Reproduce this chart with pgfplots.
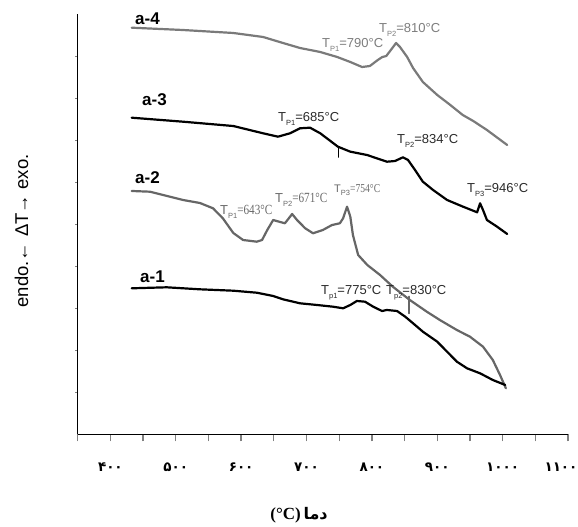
\documentclass[border=0pt]{standalone}
\usepackage{pgfplots}
\pgfplotsset{compat=1.18}
\usepackage{fontspec}
\setmainfont{Liberation Sans}
\newfontfamily\arabicfont[Script=Arabic]{DejaVu Sans}
\newfontfamily\serifn[FakeStretch=0.8]{Liberation Serif}
\newfontfamily\timesf{Liberation Serif}
\TeXXeTstate=1
\definecolor{g4}{HTML}{7A7A7A}
\definecolor{g2}{HTML}{666666}
\definecolor{t4}{HTML}{7D7D7D}
\definecolor{t2}{HTML}{6A6A6A}
\definecolor{t1}{HTML}{2A2A2A}
\newcommand\sub[1]{\raisebox{-0.5ex}{\fontsize{7.5}{8}\selectfont #1}}
\begin{document}
\begin{tikzpicture}
\useasboundingbox (0,0) rectangle (578pt,527pt);
\begin{axis}[
  at={(77.7pt,92.7pt)}, anchor=south west,
  scale only axis, width=490.3pt, height=420pt,
  xmin=350, xmax=1100, ymin=0, ymax=10,
  axis x line*=bottom, axis y line*=left,
  axis line style={line width=1.5pt},
  clip=false,
  tick align=outside,
  xtick={400,500,...,1100},
  minor xtick={350,450,...,1050},
  xticklabels={۴۰۰,۵۰۰,۶۰۰,۷۰۰,۸۰۰,۹۰۰,۱۰۰۰,\hspace*{-14pt}۱۱۰۰},
  xticklabel style={font=\arabicfont\bfseries\fontsize{13.5}{13.5}\selectfont, yshift=-18pt},
  ytick={1,...,9}, yticklabels={},
  major tick length=7pt, minor tick length=7pt,
  xtick style={line width=1.3pt},
  minor x tick style={line width=1.3pt},
  ytick style={line width=1.3pt, /pgfplots/major tick length=2.5pt},
  every axis plot/.append style={line width=2.2pt, line join=round, line cap=round},
]
% a-4
\addplot[g4, mark=none] coordinates {
(432.6,9.681)(511,9.626)(588,9.555)(633.5,9.460)(664,9.317)(690,9.198)(721,9.102)(747,8.983)(767,8.864)(785,8.745)(797,8.769)(809,8.912)(816,8.983)(822,9.007)(829,9.150)(837,9.317)(843,9.221)(854,8.983)(863,8.721)(878,8.388)(900,8.079)(920,7.840)(939,7.602)(955,7.460)(976,7.245)(1007,6.888)
};
% a-3
\addplot[black, mark=none] coordinates {
(432.6,7.538)(511,7.443)(588,7.340)(633.5,7.167)(656.4,7.086)(674.8,7.167)(690,7.286)(705.4,7.300)(721,7.167)(736,6.990)(748,6.848)(767,6.729)(792.6,6.650)(823,6.490)(835.4,6.507)(847.5,6.595)(855.3,6.531)(866,6.293)(878,6.014)(893.6,5.817)(915,5.579)(939.5,5.419)(961,5.286)(965.5,5.500)(970,5.340)(976,5.102)(991.5,4.943)(1007,4.769)
};
\addplot[black, mark=none, line width=1.6pt] coordinates {(749,6.85)(749,6.60)};
% a-2
\addplot[g2, mark=none] coordinates {
(432.6,5.793)(460.6,5.776)(511,5.579)(537,5.507)(557,5.381)(572,5.143)(588,4.793)(603,4.626)(624,4.586)(632,4.626)(640,4.864)(649,5.102)(658,5.062)(667,5.024)(678,5.245)(685.5,5.102)(698,4.905)(710,4.786)(725,4.864)(739,4.983)(751,5.024)(756,5.143)(762,5.419)(767,5.181)(771,4.745)(779,4.269)(793,4.031)(812.5,3.793)(832,3.514)(858,3.198)(884,2.919)(904,2.721)(930,2.483)(950,2.324)(970,2.086)(985,1.769)(996,1.412)(1005,1.095)
};
% a-1
\addplot[black, mark=none] coordinates {
(432.6,3.476)(486,3.500)(537,3.452)(588,3.419)(624,3.371)(649,3.293)(664,3.214)(690,3.119)(716,3.079)(740.6,3.038)(756,3.000)(767,3.079)(777,3.174)(789.5,3.157)(802,3.038)(815.5,2.936)(823,2.960)(838.5,2.936)(851,2.800)(863,2.643)(878,2.443)(900,2.205)(915,1.967)(930,1.729)(945.6,1.571)(965.5,1.452)(985,1.293)(1004,1.174)
};
\addplot[g2, mark=none, line width=1.8pt] coordinates {(857.3,3.28)(857.3,2.88)};
\end{axis}
% series labels
\begin{scope}[every node/.style={anchor=base west, inner sep=0pt}]
\node[font=\bfseries\fontsize{17}{17}\selectfont] at (135pt,502pt) {a-4};
\node[font=\bfseries\fontsize{17}{17}\selectfont] at (142pt,421pt) {a-3};
\node[font=\bfseries\fontsize{17}{17}\selectfont] at (135pt,343pt) {a-2};
\node[font=\bfseries\fontsize{17}{17}\selectfont] at (140pt,244pt) {a-1};
% annotations
\node[text=t4, font=\fontsize{13}{13}\selectfont] at (322pt,479pt) {T\sub{P1}=790°C};
\node[text=t4, font=\fontsize{13}{13}\selectfont] at (379pt,494pt) {T\sub{P2}=810°C};
\node[text=t1, font=\fontsize{13}{13}\selectfont] at (278pt,405pt) {T\sub{P1}=685°C};
\node[text=t1, font=\fontsize{13}{13}\selectfont] at (397pt,383pt) {T\sub{P2}=834°C};
\node[text=t1, font=\fontsize{13}{13}\selectfont] at (467pt,334pt) {T\sub{P3}=946°C};
\node[text=t2, font=\fontsize{13}{13}\selectfont] at (220pt,312pt) {T\sub{P1}{\serifn\fontsize{14}{14}\selectfont =643°C}};
\node[text=t2, font=\fontsize{13}{13}\selectfont] at (275pt,324pt) {T\sub{P2}{\serifn\fontsize{14}{14}\selectfont =671°C}};
\node[text=t2, font=\fontsize{11}{11}\selectfont] at (334pt,334pt) {T\sub{P3}{\serifn\fontsize{12}{12}\selectfont =754°C}};
\node[text=t1, font=\fontsize{13}{13}\selectfont] at (321pt,232pt) {T\sub{p1}=775°C};
\node[text=t1, font=\fontsize{13}{13}\selectfont] at (386pt,232pt) {T\sub{p2}=830°C};
\end{scope}
% axis titles
\node[rotate=90, font=\fontsize{18.5}{18.5}\selectfont, inner sep=0pt] at (21.5pt,296pt) {endo.←\hspace{6pt}ΔT→ exo.};
\node[inner sep=0pt, anchor=center] at (299pt,12pt) {{\timesf\bfseries\fontsize{17}{17}\selectfont (°C)} {\arabicfont\bfseries\fontsize{16}{16}\selectfont\beginR دما\endR}};
\end{tikzpicture}
\end{document}
